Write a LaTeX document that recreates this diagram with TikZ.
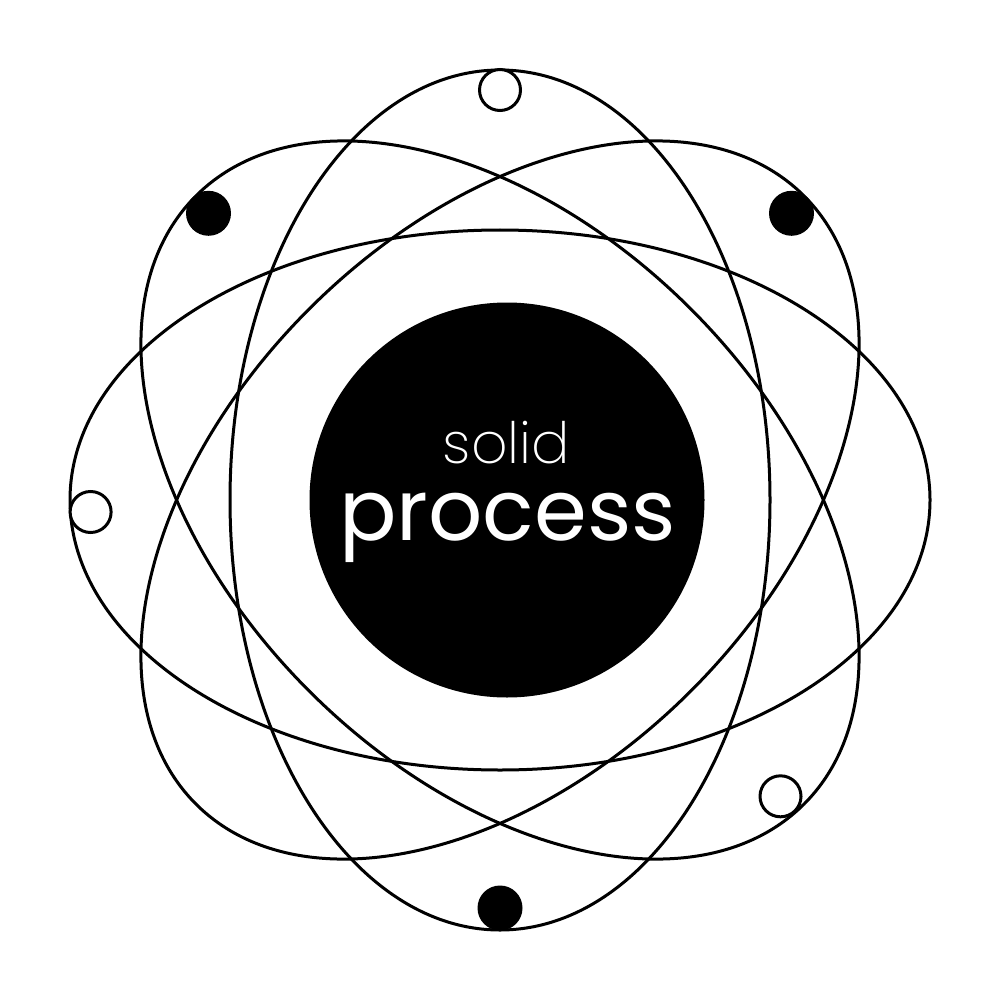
\documentclass[tikz,border=0pt]{standalone}
\usepackage{fontspec}
\setmainfont{Poppins}
\newfontfamily\poplight{Poppins ExtraLight}
\tikzset{
  orbit/.style={draw=black,line width=3pt,fill=none},
  hollow/.style={circle,draw=black,line width=3pt,fill=white,minimum size=41pt,inner sep=0pt},
  solidball/.style={circle,fill=black,minimum size=45pt,inner sep=0pt},
  core/.style={circle,fill=black,minimum size=395pt,inner sep=0pt},
}
\begin{document}
\begin{tikzpicture}[x=1pt,y=-1pt]
\useasboundingbox (0,0) rectangle (1000,1000);
\fill[white] (0,0) rectangle (1000,1000);
\foreach \a in {0,45,90,135}
  \draw[orbit,rotate around={\a:(500,500)}] (500,500) ellipse [x radius=430,y radius=270];
\node[core] (core) at (507,500) {};
\node[hollow] (h1) at (500,90) {};
\node[hollow] (h2) at (90.6,512) {};
\node[hollow] (h3) at (780.5,796.3) {};
\node[solidball] (s1) at (208.5,213.3) {};
\node[solidball] (s2) at (791.5,213.3) {};
\node[solidball] (s3) at (500,908) {};
\node[text=white,font=\poplight\fontsize{57}{60}\selectfont,anchor=base] (t1) at (506.5,463.5) {solid};
\node[text=white,font=\fontsize{85}{90}\selectfont,anchor=base] (t2) at (507.5,540.5) {process};
\end{tikzpicture}
\end{document}
